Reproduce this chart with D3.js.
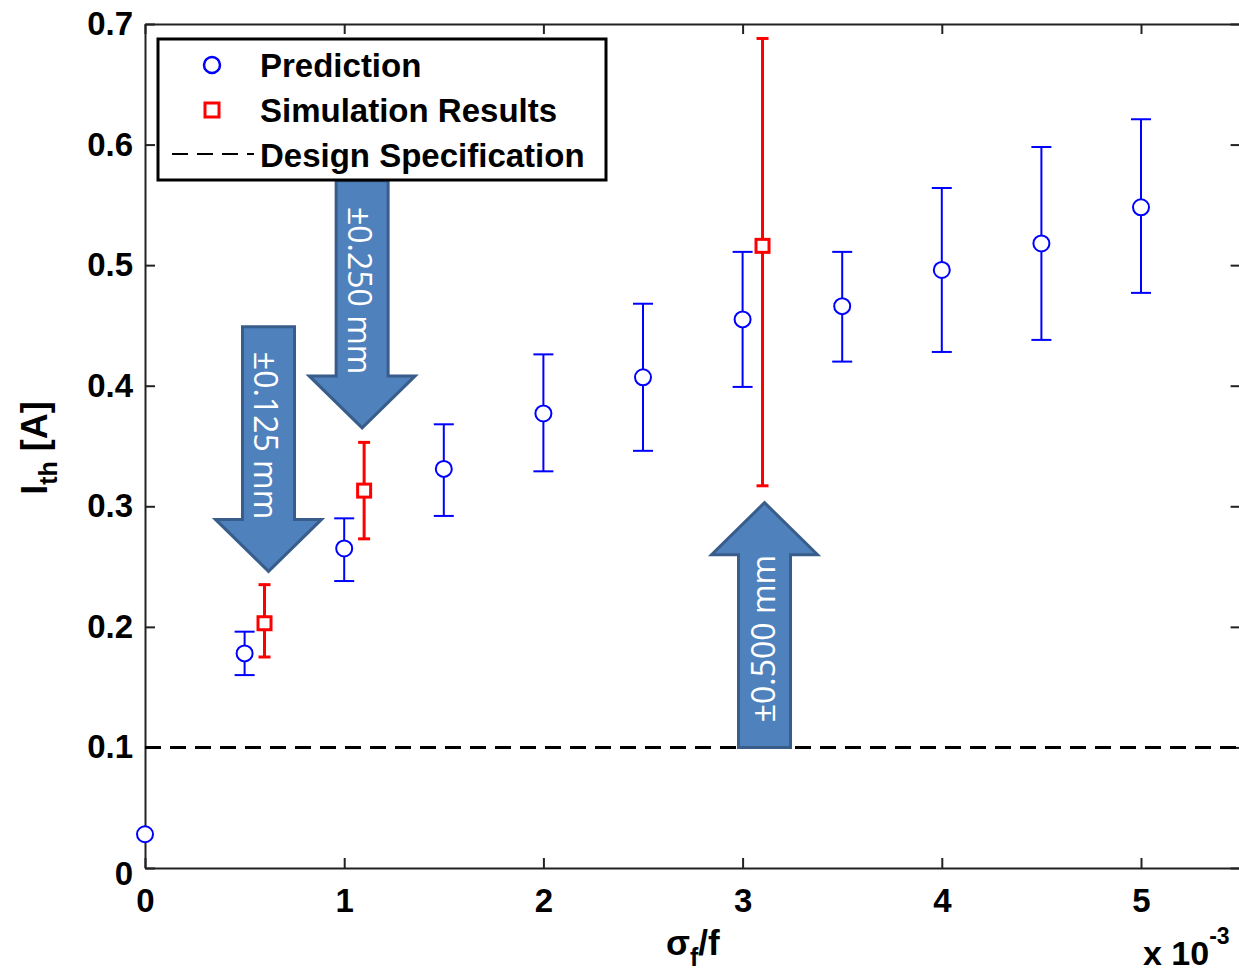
<!DOCTYPE html>
<html>
<head>
<meta charset="utf-8">
<script src="https://cdn.jsdelivr.net/npm/d3@7"></script>
<style>
  body { margin: 0; background: #fff; }
  svg { display: block; }
  .axis text { font-family: "Liberation Sans", Arial, sans-serif; font-weight: bold; font-size: 33px; fill: #000; }
  .axis path, .axis line { stroke: #222; stroke-width: 2px; }
</style>
</head>
<body>
<svg width="1239" height="974"></svg>
<script>
// data (x in units of 1e-3)
var predX  = [0, 0.5, 1, 1.5, 2, 2.5, 3, 3.5, 4, 4.5, 5];
var predY  = [0.028, 0.178, 0.265, 0.331, 0.377, 0.407, 0.455, 0.466, 0.496, 0.518, 0.548];
var predLo = [0.028, 0.160, 0.238, 0.292, 0.329, 0.346, 0.399, 0.420, 0.428, 0.438, 0.477];
var predHi = [0.028, 0.196, 0.290, 0.368, 0.426, 0.468, 0.511, 0.511, 0.564, 0.598, 0.621];

var simX  = [0.6, 1.1, 3.1];
var simY  = [0.203, 0.313, 0.516];
var simLo = [0.175, 0.273, 0.317];
var simHi = [0.235, 0.353, 0.688];

var designSpec = 0.1;

var xTicks = [0, 1, 2, 3, 4, 5];
var yTicks = [0, 0.1, 0.2, 0.3, 0.4, 0.5, 0.6, 0.7];

var legendLabels = ["Prediction", "Simulation Results", "Design Specification"];

// arrow annotations, in data units
var arrowX     = [0.62, 1.09, 3.11];
var arrowTail  = [0.449, 0.570, 0.100];
var arrowTip   = [0.246, 0.365, 0.303];
var arrowText  = ["\u00b10.125 mm", "\u00b10.250 mm", "\u00b10.500 mm"];

// dimensions and margins
var svg    = d3.select("svg");
var margin = {top: 24, left: 145};
var width  = 1095.6,
    height = 844;

var xScale = d3.scaleLinear().domain([0, 5.5]).range([0, width]);
var yScale = d3.scaleLinear().domain([0, 0.7]).range([height, 0]);

var g = svg.append("g")
  .attr("transform", "translate(" + margin.left + "," + margin.top + ")");

// axes, ticks pointing inward on all four sides
var yFmt = function(d) { return d === 0 ? "0" : d3.format(".1f")(d); };

g.append("g").attr("class", "axis")
  .attr("transform", "translate(0," + height + ")")
  .call(d3.axisBottom(xScale).tickValues(xTicks).tickSizeInner(-10).tickSizeOuter(0).tickPadding(21).tickFormat(d3.format("d")));
g.append("g").attr("class", "axis")
  .call(d3.axisTop(xScale).tickValues(xTicks).tickSizeInner(-10).tickSizeOuter(0).tickFormat(""));
var gY = g.append("g").attr("class", "axis")
  .call(d3.axisLeft(yScale).tickValues(yTicks).tickSizeInner(-10).tickSizeOuter(0).tickPadding(12).tickFormat(yFmt));
g.append("g").attr("class", "axis")
  .attr("transform", "translate(" + width + ",0)")
  .call(d3.axisRight(yScale).tickValues(yTicks).tickSizeInner(-10).tickSizeOuter(0).tickFormat(""));

// the "0" label sits a little lower than the tick
gY.selectAll(".tick text").filter(function(d) { return d === 0; }).attr("dy", "0.5em");

svg.selectAll(".axis .domain").attr("stroke", "#222").attr("stroke-width", 2);

// design specification line
g.append("line")
  .attr("x1", xScale(0)).attr("x2", xScale(5.5))
  .attr("y1", yScale(designSpec)).attr("y2", yScale(designSpec))
  .attr("stroke", "#000").attr("stroke-width", 3)
  .attr("stroke-dasharray", "16,9");

var pred = predX.map(function(x, i) { return {x: x, y: predY[i], lo: predLo[i], hi: predHi[i]}; });
var sim  = simX.map(function(x, i) { return {x: x, y: simY[i], lo: simLo[i], hi: simHi[i]}; });

function errorBars(data, color, sw, cap) {
  var eb = g.append("g").selectAll("g")
    .data(data.filter(function(d) { return d.hi > d.lo; }))
    .enter().append("g")
    .attr("stroke", color).attr("stroke-width", sw);
  eb.append("line")
    .attr("x1", function(d) { return xScale(d.x); })
    .attr("x2", function(d) { return xScale(d.x); })
    .attr("y1", function(d) { return yScale(d.lo); })
    .attr("y2", function(d) { return yScale(d.hi); });
  ["lo", "hi"].forEach(function(k) {
    eb.append("line")
      .attr("x1", function(d) { return xScale(d.x) - cap; })
      .attr("x2", function(d) { return xScale(d.x) + cap; })
      .attr("y1", function(d) { return yScale(d[k]); })
      .attr("y2", function(d) { return yScale(d[k]); });
  });
}

errorBars(pred, "#0000ff", 2, 10);
errorBars(sim, "#ff0000", 3, 6);

g.append("g").selectAll("circle")
  .data(pred).enter().append("circle")
  .attr("cx", function(d) { return xScale(d.x); })
  .attr("cy", function(d) { return yScale(d.y); })
  .attr("r", 8)
  .attr("fill", "#fff").attr("stroke", "#0000ff").attr("stroke-width", 2);

g.append("g").selectAll("rect")
  .data(sim).enter().append("rect")
  .attr("x", function(d) { return xScale(d.x) - 6.5; })
  .attr("y", function(d) { return yScale(d.y) - 6.5; })
  .attr("width", 13).attr("height", 13)
  .attr("fill", "#fff").attr("stroke", "#ff0000").attr("stroke-width", 3);

// axis labels
var ylab = svg.append("text")
  .attr("transform", "translate(47,448) rotate(-90)")
  .attr("text-anchor", "middle")
  .style("font-family", "Liberation Sans, Arial, sans-serif")
  .style("font-weight", "bold").style("font-size", "36px");
ylab.append("tspan").text("I");
ylab.append("tspan").attr("dy", 10).style("font-size", "25px").text("th");
ylab.append("tspan").attr("dy", -10).text(" [A]");

var xlab = svg.append("text")
  .attr("x", margin.left + width / 2).attr("y", 955)
  .attr("text-anchor", "middle")
  .style("font-family", "Liberation Sans, Arial, sans-serif")
  .style("font-weight", "bold").style("font-size", "35px");
xlab.append("tspan").text("\u03c3");
xlab.append("tspan").attr("dy", 11).style("font-size", "25px").text("f");
xlab.append("tspan").attr("dy", -11).text("/f");

var mult = svg.append("text")
  .attr("x", 1143).attr("y", 965)
  .style("font-family", "Liberation Sans, Arial, sans-serif")
  .style("font-weight", "bold").style("font-size", "34px");
mult.append("tspan").text("x 10");
mult.append("tspan").attr("dy", -21).style("font-size", "23px").text("-3");

// legend
var leg = svg.append("g");
leg.append("rect")
  .attr("x", 158).attr("y", 39).attr("width", 448).attr("height", 141)
  .attr("fill", "#fff").attr("stroke", "#000").attr("stroke-width", 3);
leg.append("circle").attr("cx", 212).attr("cy", 65).attr("r", 8)
  .attr("fill", "none").attr("stroke", "#0000ff").attr("stroke-width", 2.5);
leg.append("rect").attr("x", 205).attr("y", 103).attr("width", 14).attr("height", 14)
  .attr("fill", "none").attr("stroke", "#ff0000").attr("stroke-width", 3);
leg.append("line").attr("x1", 172).attr("x2", 254).attr("y1", 154).attr("y2", 154)
  .attr("stroke", "#000").attr("stroke-width", 2).attr("stroke-dasharray", "16,9");
leg.selectAll("text")
  .data(legendLabels).enter().append("text")
  .attr("x", 260)
  .attr("y", function(d, i) { return 77 + i * 45; })
  .style("font-family", "Liberation Sans, Arial, sans-serif")
  .style("font-weight", "bold").style("font-size", "33px")
  .text(function(d) { return d; });

// block arrows
var shaftW = 26, headW = 53, headL = 52;
var arrows = arrowX.map(function(x, i) {
  return {x: x, tail: arrowTail[i], tip: arrowTip[i], label: arrowText[i]};
});

var ag = g.append("g").selectAll("g").data(arrows).enter().append("g");

ag.append("path")
  .attr("d", function(d) {
    var cx = xScale(d.x), ty = yScale(d.tail), py = yScale(d.tip);
    var dir = py > ty ? 1 : -1;
    var hb = py - dir * headL;
    return "M" + (cx - shaftW) + "," + ty +
      "L" + (cx + shaftW) + "," + ty +
      "L" + (cx + shaftW) + "," + hb +
      "L" + (cx + headW) + "," + hb +
      "L" + cx + "," + py +
      "L" + (cx - headW) + "," + hb +
      "L" + (cx - shaftW) + "," + hb + "Z";
  })
  .attr("fill", "#4f81bd").attr("stroke", "#385d8a").attr("stroke-width", 3)
  .attr("stroke-linejoin", "miter");

ag.append("text")
  .attr("transform", function(d) {
    var cx = xScale(d.x) - 2, ty = yScale(d.tail), py = yScale(d.tip);
    var cy = ty + 0.445 * (py - ty);
    return "translate(" + cx + "," + cy + ") rotate(" + (py > ty ? 90 : -90) + ")";
  })
  .attr("text-anchor", "middle")
  .attr("dominant-baseline", "central")
  .style("font-family", "Open Sans, Noto Sans, sans-serif")
  .style("font-size", "32px")
  .attr("fill", "#fff")
  .text(function(d) { return d.label; });
</script>
</body>
</html>
